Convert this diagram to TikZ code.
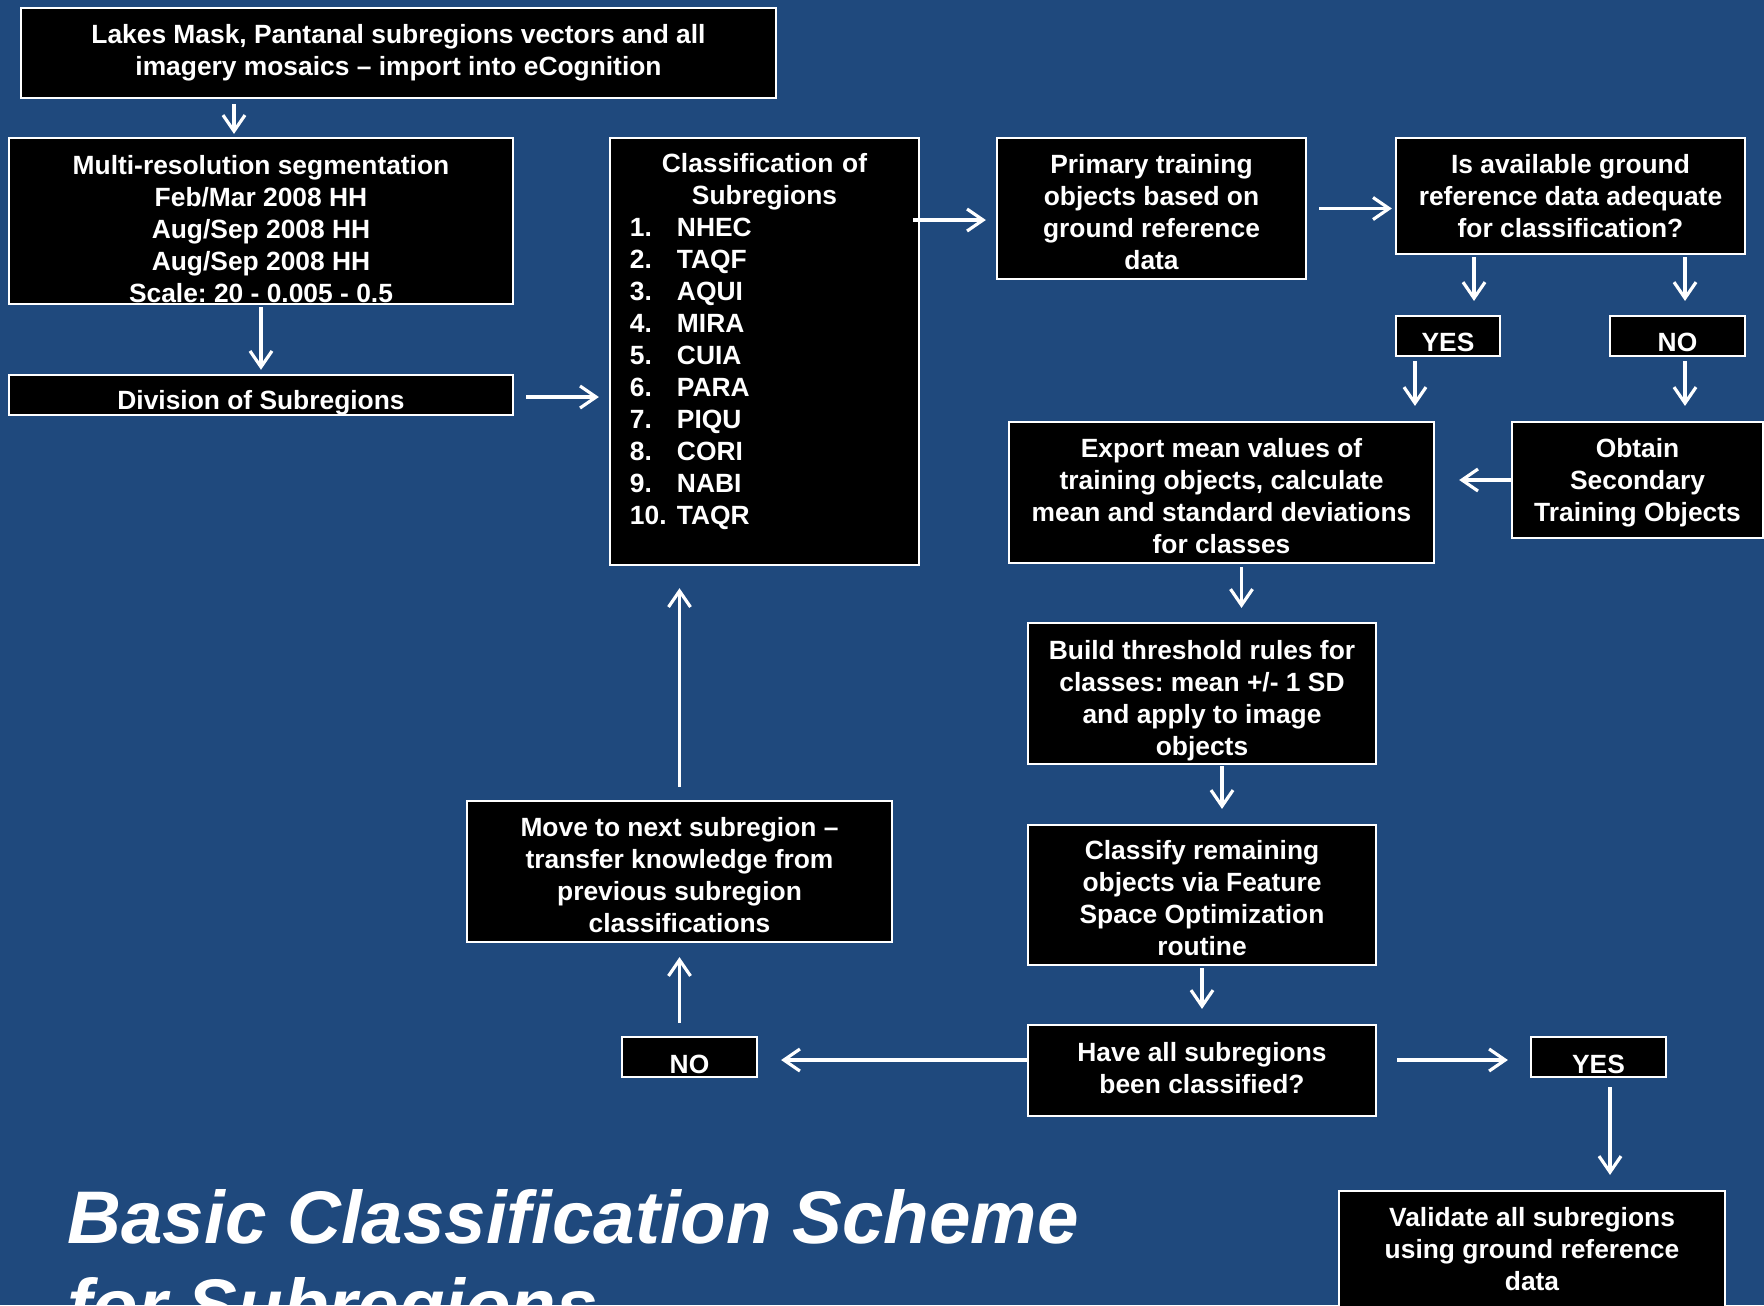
\documentclass[tikz,border=0pt]{standalone}
\usepackage{fontspec}
\setmainfont{Liberation Sans}
\usetikzlibrary{arrows.meta}
\definecolor{bgblue}{HTML}{1F497D}
\newcommand{\lowr}[1]{\rule{0pt}{#1}}

\begin{document}
\begin{tikzpicture}[x=0.01cm,y=-0.01cm,
	box/.style={draw=white,line width=0.6pt,fill=black,text=white,inner sep=0pt,align=center,
		font=\bfseries\fontsize{7.5}{9.1}\selectfont\frenchspacing},
	tup/.style={execute at end node=\rule[-#1]{0pt}{#1}},
	arr/.style={draw=white,line width=0.9pt,-{Straight Barb[length=1.6mm,width=2.2mm]},
		shorten <=0.3mm,shorten >=1.4mm}]
	\path[use as bounding box,fill=bgblue] (0,0) rectangle (1764,1305);
	\clip (0,0) rectangle (1764,1305);

	% left column
	\node[box,minimum width=7.55cm,minimum height=0.9cm] (lakes) at (398.5,53) {Lakes Mask, Pantanal subregions vectors and all\\imagery mosaics -- import into eCognition};
	\node[box,minimum width=5.04cm,minimum height=1.66cm] (segm) at (261,221) {\lowr{9.9pt}Multi-resolution segmentation\\Feb/Mar 2008 HH\\Aug/Sep 2008 HH\\Aug/Sep 2008 HH\\Scale: 20 - 0.005 - 0.5};
	\node[box,minimum width=5.04cm,minimum height=0.4cm] (divis) at (261,395) {\lowr{9.9pt}Division of Subregions};

	% subregion list
	\node[box,align=left,text width=2.69cm,inner xsep=2mm,minimum height=4.27cm] (subcls) at (764.5,351.5) {%
		{\centering Classification of\\Subregions\par}
		\makebox[4.7mm][l]{1.}NHEC\\
		\makebox[4.7mm][l]{2.}TAQF\\
		\makebox[4.7mm][l]{3.}AQUI\\
		\makebox[4.7mm][l]{4.}MIRA\\
		\makebox[4.7mm][l]{5.}CUIA\\
		\makebox[4.7mm][l]{6.}PARA\\
		\makebox[4.7mm][l]{7.}PIQU\\
		\makebox[4.7mm][l]{8.}CORI\\
		\makebox[4.7mm][l]{9.}NABI\\
		\makebox[4.7mm][l]{10.}TAQR\par\vspace*{1.9mm}};

	% training objects
	\node[box,minimum width=3.09cm,minimum height=1.41cm] (prim) at (1151.5,208.5) {\lowr{7.4pt}Primary training\\objects based on\\ground reference\\data};
	\node[box,minimum width=3.49cm,minimum height=1.16cm] (isav) at (1570.5,196) {Is available ground\\reference data adequate\\for classification?};
	\node[box,minimum width=1.04cm,minimum height=0.4cm] (yes1) at (1448,336) {\lowr{8.6pt}YES};
	\node[box,minimum width=1.35cm,minimum height=0.4cm] (no1) at (1677.5,336) {\lowr{8.6pt}NO};
	\node[box,minimum width=4.25cm,minimum height=1.41cm] (expo) at (1221.5,492.5) {\lowr{7.4pt}Export mean values of\\training objects, calculate\\mean and standard deviations\\for classes};
	\node[box,minimum width=2.51cm,minimum height=1.16cm] (obt) at (1637.5,480) {\lowr{6.7pt}Obtain\\Secondary\\Training Objects};

	% classification
	\node[box,minimum width=3.48cm,minimum height=1.41cm] (build) at (1202,693.5) {\lowr{9.3pt}Build threshold rules for\\classes: mean +/- 1 SD\\and apply to image\\objects};
	\node[box,minimum width=3.48cm,minimum height=1.4cm] (fso) at (1202,895) {\lowr{7.4pt}Classify remaining\\objects via Feature\\Space Optimization\\routine};
	\node[box,tup=1.3pt,minimum width=3.48cm,minimum height=0.91cm] (done) at (1202,1070.5) {Have all subregions\\been classified?};
	\node[box,minimum width=1.35cm,minimum height=0.4cm] (no2) at (689.5,1057) {\lowr{9.2pt}NO};
	\node[box,minimum width=4.25cm,minimum height=1.41cm] (move) at (679.5,871.5) {\lowr{7.4pt}Move to next subregion --\\transfer knowledge from\\previous subregion\\classifications};
	\node[box,minimum width=1.35cm,minimum height=0.4cm] (yes2) at (1598.5,1057) {\lowr{9.2pt}YES};
	\node[box,minimum width=3.86cm,minimum height=1.17cm] (valid) at (1532,1249.5) {Validate all subregions\\using ground reference\\data};

	% title
	\node[anchor=base west,align=left,inner sep=0pt,text=white,
		font=\bfseries\itshape\fontsize{21.2}{25}\selectfont] (title) at (67,1331) {Basic Classification Scheme\\for Subregions};

	% arrows
	\draw[arr,shorten <=0.5mm,shorten >=0.3mm] ([xshift=-2.7mm]segm.north |- lakes.south) -- ([xshift=-2.7mm]segm.north);
	\draw[arr,shorten <=0.2mm,shorten >=0.4mm] (segm) -- (divis);
	\draw[arr,shorten <=1.2mm,shorten >=1mm] ([yshift=-0.2mm]divis.east) -- ([yshift=-0.2mm]divis.east -| subcls.west);
	\draw[arr,shorten <=-0.7mm,shorten >=1mm] ([yshift=-1.15mm]prim.west -| subcls.east) -- ([yshift=-1.15mm]prim.west);
	\draw[arr,shorten <=1.2mm,shorten >=0.3mm] (prim.east) -- (prim.east -| isav.west);
	\draw[arr,shorten <=0.2mm] ([xshift=2.6mm]yes1.north |- isav.south) -- ([xshift=2.6mm]yes1.north);
	\draw[arr,shorten <=0.2mm] ([xshift=0.75mm]no1.north |- isav.south) -- ([xshift=0.75mm]no1.north);
	\draw[arr,shorten <=0.4mm,shorten >=1.5mm] ([xshift=-3.3mm]yes1.south) -- ([xshift=-3.3mm]yes1.south |- expo.north);
	\draw[arr,shorten <=0.4mm,shorten >=1.5mm] ([xshift=0.75mm]no1.south) -- ([xshift=0.75mm]no1.south |- obt.north);
	\draw[arr,shorten <=0mm,shorten >=2.4mm] (obt.west) -- (obt.west -| expo.east);
	\draw[arr] ([xshift=2mm]expo.south) -- ([xshift=2mm]expo.south |- build.north);
	\draw[arr,shorten <=0.1mm,shorten >=1.5mm] ([xshift=2mm]build.south) -- ([xshift=2mm]build.south |- fso.north);
	\draw[arr,shorten <=0.2mm,shorten >=1.5mm] (fso) -- (done);
	\draw[arr,shorten <=-0.2mm,shorten >=2.3mm] ([yshift=-0.3mm]no2.east -| done.west) -- ([yshift=-0.3mm]no2.east);
	\draw[arr,shorten <=2mm,shorten >=2.2mm] ([yshift=-0.3mm]yes2.west -| done.east) -- ([yshift=-0.3mm]yes2.west);
	\draw[arr,shorten <=0.9mm,shorten >=1.5mm] ([xshift=1.15mm]yes2.south) -- ([xshift=1.15mm]yes2.south |- valid.north);
	\draw[arr,shorten <=1.3mm,shorten >=1.4mm] (move.south |- no2.north) -- (move.south);
	\draw[arr,shorten <=1.3mm,shorten >=2.2mm] (move.north) -- (move.north |- subcls.south);
\end{tikzpicture}
\end{document}
